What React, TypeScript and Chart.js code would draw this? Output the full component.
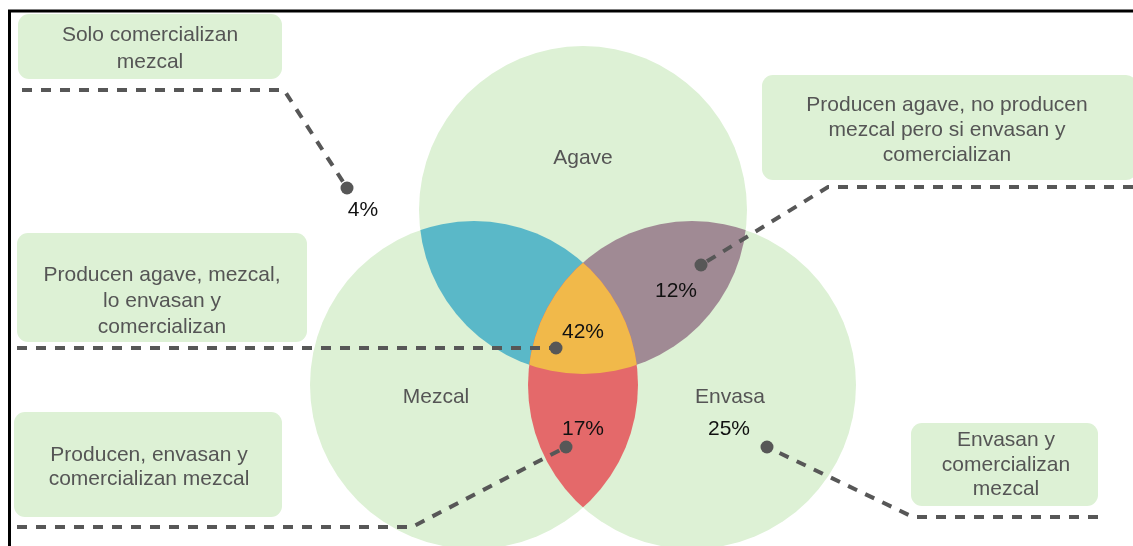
import React, { useEffect, useRef } from 'react';
import { Chart, registerables } from 'chart.js';

Chart.register(...registerables);

// ---- data ----
const SETS = ['Agave', 'Mezcal', 'Envasa'];
const GROUP_LABELS = [
  ['Solo comercializan', 'mezcal'],
  ['Producen agave, no producen', 'mezcal pero si envasan y', 'comercializan'],
  ['Producen agave, mezcal,', 'lo envasan y', 'comercializan'],
  ['Producen, envasan y', 'comercializan mezcal'],
  ['Envasan y', 'comercializan', 'mezcal'],
];
const GROUP_VALUES = [4, 12, 42, 17, 25];

// ---- layout (axis units) ----
const W = 1133;
const H = 546;
const CIRCLES = [
  { cx: 583, cy: 210, r: 164 },
  { cx: 474, cy: 385, r: 164 },
  { cx: 692, cy: 385, r: 164 },
];
const SET_LABEL_POS = [
  { x: 583, y: 158 },
  { x: 436, y: 397 },
  { x: 730, y: 397 },
];
const REGIONS = [
  { sets: [0, 1], color: '#5AB8C8' },
  { sets: [0, 2], color: '#A08A94' },
  { sets: [1, 2], color: '#E4696A' },
  { sets: [0, 1, 2], color: '#F1B94A' },
];
const VALUE_POS = [
  { x: 363, y: 210 },
  { x: 676, y: 291 },
  { x: 583, y: 332 },
  { x: 583, y: 429 },
  { x: 729, y: 429 },
];
const BOXES = [
  { x0: 18, y0: 14, x1: 282, y1: 79, tx: 150, ty: [35, 62] },
  { x0: 762, y0: 75, x1: 1137, y1: 180, tx: 947, ty: [105, 130, 155] },
  { x0: 17, y0: 233, x1: 307, y1: 342, tx: 162, ty: [275, 301, 327] },
  { x0: 14, y0: 412, x1: 282, y1: 517, tx: 149, ty: [455, 479] },
  { x0: 911, y0: 423, x1: 1098, y1: 506, tx: 1006, ty: [440, 465, 489] },
];
const LEADERS = [
  [{ x: 22, y: 90 }, { x: 284, y: 90 }, { x: 347, y: 188 }],
  [{ x: 1133, y: 187 }, { x: 828, y: 187 }, { x: 701, y: 265 }],
  [{ x: 17, y: 348 }, { x: 556, y: 348 }],
  [{ x: 17, y: 527 }, { x: 412, y: 527 }, { x: 566, y: 447 }],
  [{ x: 1098, y: 517 }, { x: 913, y: 517 }, { x: 767, y: 447 }],
];

const FONT = '"Liberation Sans", Arial, sans-serif';
const GREEN = '#DDF1D5';
const LINE = '#575757';

const vennPlugin = {
  id: 'venn',
  beforeDatasetsDraw(chart: any) {
    const { ctx, scales } = chart;
    const xs = scales.x;
    const ys = scales.y;
    const px = (v: number) => xs.getPixelForValue(v);
    const py = (v: number) => ys.getPixelForValue(v);
    const circ = (c: any) => {
      const r = px(c.cx + c.r) - px(c.cx);
      ctx.beginPath();
      ctx.arc(px(c.cx), py(c.cy), r, 0, Math.PI * 2);
    };
    ctx.save();
    // frame
    ctx.strokeStyle = '#000';
    ctx.lineWidth = 3;
    ctx.beginPath();
    ctx.moveTo(px(9.5), py(H));
    ctx.lineTo(px(9.5), py(11));
    ctx.lineTo(px(W), py(11));
    ctx.stroke();
    // boxes
    ctx.fillStyle = GREEN;
    BOXES.forEach((b) => {
      const x0 = px(b.x0), x1 = px(b.x1), y0 = py(b.y0), y1 = py(b.y1);
      ctx.beginPath();
      (ctx as any).roundRect(x0, y0, x1 - x0, y1 - y0, 11);
      ctx.fill();
    });
    // circles
    ctx.fillStyle = GREEN;
    CIRCLES.forEach((c) => {
      circ(c);
      ctx.fill();
    });
    // regions
    REGIONS.forEach((reg) => {
      ctx.save();
      reg.sets.forEach((i) => {
        circ(CIRCLES[i]);
        ctx.clip();
      });
      ctx.fillStyle = reg.color;
      ctx.fillRect(0, 0, chart.width, chart.height);
      ctx.restore();
    });
    ctx.restore();
  },
  afterDatasetsDraw(chart: any) {
    const { ctx, scales } = chart;
    const px = (v: number) => scales.x.getPixelForValue(v);
    const py = (v: number) => scales.y.getPixelForValue(v);
    ctx.save();
    ctx.textAlign = 'center';
    ctx.textBaseline = 'middle';
    ctx.font = `21px ${FONT}`;
    ctx.fillStyle = '#555555';
    SETS.forEach((s, i) => {
      ctx.fillText(s, px(SET_LABEL_POS[i].x), py(SET_LABEL_POS[i].y));
    });
    GROUP_LABELS.forEach((lines, i) => {
      const b = BOXES[i];
      lines.forEach((t, j) => ctx.fillText(t, px(b.tx), py(b.ty[j])));
    });
    ctx.fillStyle = '#111111';
    GROUP_VALUES.forEach((v, i) => {
      ctx.fillText(`${v}%`, px(VALUE_POS[i].x), py(VALUE_POS[i].y));
    });
    ctx.restore();
  },
};

export default function App() {
  const ref = useRef<HTMLCanvasElement | null>(null);
  useEffect(() => {
    if (!ref.current) return;
    const datasets: any[] = LEADERS.map((pts, i) => ({
      label: `leader-${i}`,
      data: pts,
      showLine: true,
      borderColor: LINE,
      borderWidth: 4,
      borderDash: [10, 9],
      borderCapStyle: 'butt',
      pointRadius: 0,
      fill: false,
      clip: false,
      order: 2,
    }));
    datasets.push({
      label: 'anchors',
      data: LEADERS.map((pts) => pts[pts.length - 1]),
      showLine: false,
      pointRadius: 6.5,
      pointBackgroundColor: LINE,
      pointBorderWidth: 0,
      clip: false,
      order: 1,
    });
    const chart = new Chart(ref.current, {
      type: 'scatter',
      data: { datasets },
      options: {
        animation: false,
        responsive: false,
        devicePixelRatio: 1,
        layout: { padding: 0, autoPadding: false },
        plugins: { legend: { display: false }, tooltip: { enabled: false } },
        events: [],
        scales: {
          x: { type: 'linear', min: 0, max: W, display: false },
          y: { type: 'linear', min: 0, max: H, reverse: true, display: false },
        },
      },
      plugins: [vennPlugin],
    } as any);
    return () => chart.destroy();
  }, []);
  return (
    <div style={{ position: 'fixed', left: 0, top: 0, width: W, height: H, background: '#fff' }}>
      <canvas ref={ref} width={W} height={H} style={{ display: 'block', width: W, height: H }} />
    </div>
  );
}
